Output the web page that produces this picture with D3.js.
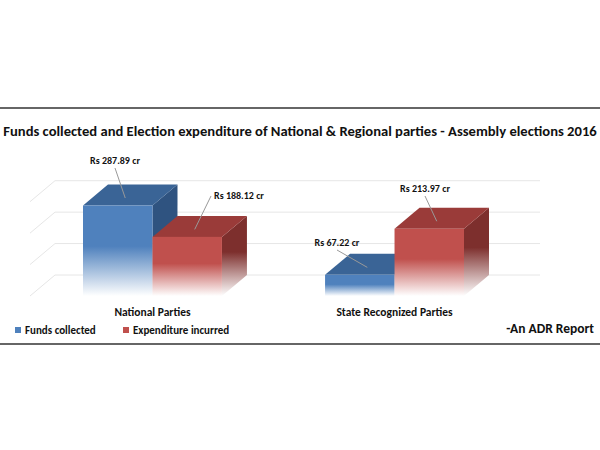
<!DOCTYPE html>
<html><head><meta charset="utf-8">
<script src="https://cdn.jsdelivr.net/npm/d3@7"></script>
<style>body{margin:0;background:#fff}text{font-family:Calibri,Carlito,"Open Sans",sans-serif;font-weight:bold}</style>
</head><body><svg id="c" width="600" height="450"></svg>
<script>
let categories = ['National Parties', 'State Recognized Parties'];
let seriesNames = ['Funds collected', 'Expenditure incurred'];
let funds = [287.89, 67.22];
let expenditure = [188.12, 213.97];
let labels = [['Rs 287.89 cr', 'Rs 67.22 cr'], ['Rs 188.12 cr', 'Rs 213.97 cr']];
let gridTicks = [0, 100, 200, 300];
let colors = [{front:'#4f81bd', top:'#3a6496', side:'#2f5380'}, {front:'#c0504d', top:'#9a3b39', side:'#7d2f2d'}];

let svg = d3.select('#c');
let dx = 25, dy = 21;
let y = d3.scaleLinear().domain([0, 350]).range([296, 186]);
let x0 = d3.scaleBand().domain(categories).range([83, 464]).paddingInner(0.426).paddingOuter(0);
let x1 = d3.scaleBand().domain(seriesNames).range([0, x0.bandwidth()]);

svg.append('line').attr('x1',0).attr('x2',600).attr('y1',108).attr('y2',108).attr('stroke','#666').attr('stroke-width',2);
svg.append('line').attr('x1',0).attr('x2',600).attr('y1',344).attr('y2',344).attr('stroke','#666').attr('stroke-width',2);
svg.append('text').attr('x',300).attr('y',136).attr('text-anchor','middle').attr('font-size',14.6).attr('fill','#111')
  .text('Funds collected and Election expenditure of National & Regional parties - Assembly elections 2016');

gridTicks.forEach(function(t){
  let yy = y(t) - dy;
  svg.append('line').attr('x1',30+dx).attr('x2',540).attr('y1',yy).attr('y2',yy).attr('stroke','#e6e6e6');
  svg.append('line').attr('x1',30).attr('x2',30+dx).attr('y1',yy+dy).attr('y2',yy).attr('stroke','#e6e6e6');
});

let defs = svg.append('defs');
colors.forEach(function(c, i){
  let g = defs.append('linearGradient').attr('id','g'+i).attr('x1',0).attr('y1',0).attr('x2',0).attr('y2',1);
  g.append('stop').attr('offset','0%').attr('stop-color',c.front);
  g.append('stop').attr('offset','45%').attr('stop-color',c.front);
  g.append('stop').attr('offset','100%').attr('stop-color','#fff');
  let s = defs.append('linearGradient').attr('id','s'+i).attr('x1',0).attr('y1',0).attr('x2',0).attr('y2',1);
  s.append('stop').attr('offset','0%').attr('stop-color',c.side);
  s.append('stop').attr('offset','45%').attr('stop-color',c.side);
  s.append('stop').attr('offset','100%').attr('stop-color','#fff');
});

let bars = [];
categories.forEach(function(cat, ci){
  [funds, expenditure].forEach(function(arr, si){
    bars.push({cat: cat, si: si, v: arr[ci], label: labels[si][ci]});
  });
});

bars.forEach(function(b){
  let xl = x0(b.cat) + x1(seriesNames[b.si]), w = x1.bandwidth(), yt = y(b.v), yb = y(0);
  let c = colors[b.si], g = svg.append('g');
  g.append('path').attr('d', `M${xl+w},${yt}L${xl+w+dx},${yt-dy}L${xl+w+dx},${yb-dy}L${xl+w},${yb}Z`).attr('fill','url(#s'+b.si+')');
  g.append('path').attr('d', `M${xl},${yt}L${xl+dx},${yt-dy}L${xl+w+dx},${yt-dy}L${xl+w},${yt}Z`).attr('fill',c.top);
  g.append('rect').attr('x',xl).attr('y',yt).attr('width',w).attr('height',yb-yt).attr('fill','url(#g'+b.si+')');
  b.tx = xl + w/2 + dx/2 - 5; b.ty = yt - dy/2 + 3;
});

let labelPos = [[115,164],[214,199],[337,246],[425,192]];
bars.forEach(function(b, i){
  let p = labelPos[i];
  let lx = i==1 ? p[0]-3 : p[0];
  svg.append('line').attr('x1',lx).attr('y1',i==1 ? p[1]-3 : p[1]+4).attr('x2',b.tx).attr('y2',b.ty).attr('stroke','#999');
  svg.append('text').attr('x',p[0]).attr('y',p[1]).attr('text-anchor', i==1 ? 'start' : 'middle').attr('font-size',10).attr('fill','#111').text(b.label);
});

categories.forEach(function(cat){
  svg.append('text').attr('x',x0(cat)+x0.bandwidth()/2).attr('y',316).attr('text-anchor','middle').attr('font-size',11.5).attr('fill','#111').text(cat);
});

let lx = [15, 123];
seriesNames.forEach(function(n, i){
  svg.append('rect').attr('x',lx[i]).attr('y',327).attr('width',6).attr('height',6).attr('fill',colors[i].front);
  svg.append('text').attr('x',lx[i]+10).attr('y',334).attr('font-size',11).attr('fill','#111').text(n);
});
svg.append('text').attr('x',594).attr('y',333).attr('text-anchor','end').attr('font-size',13.5).attr('fill','#111').text('-An ADR Report');
</script></body></html>
